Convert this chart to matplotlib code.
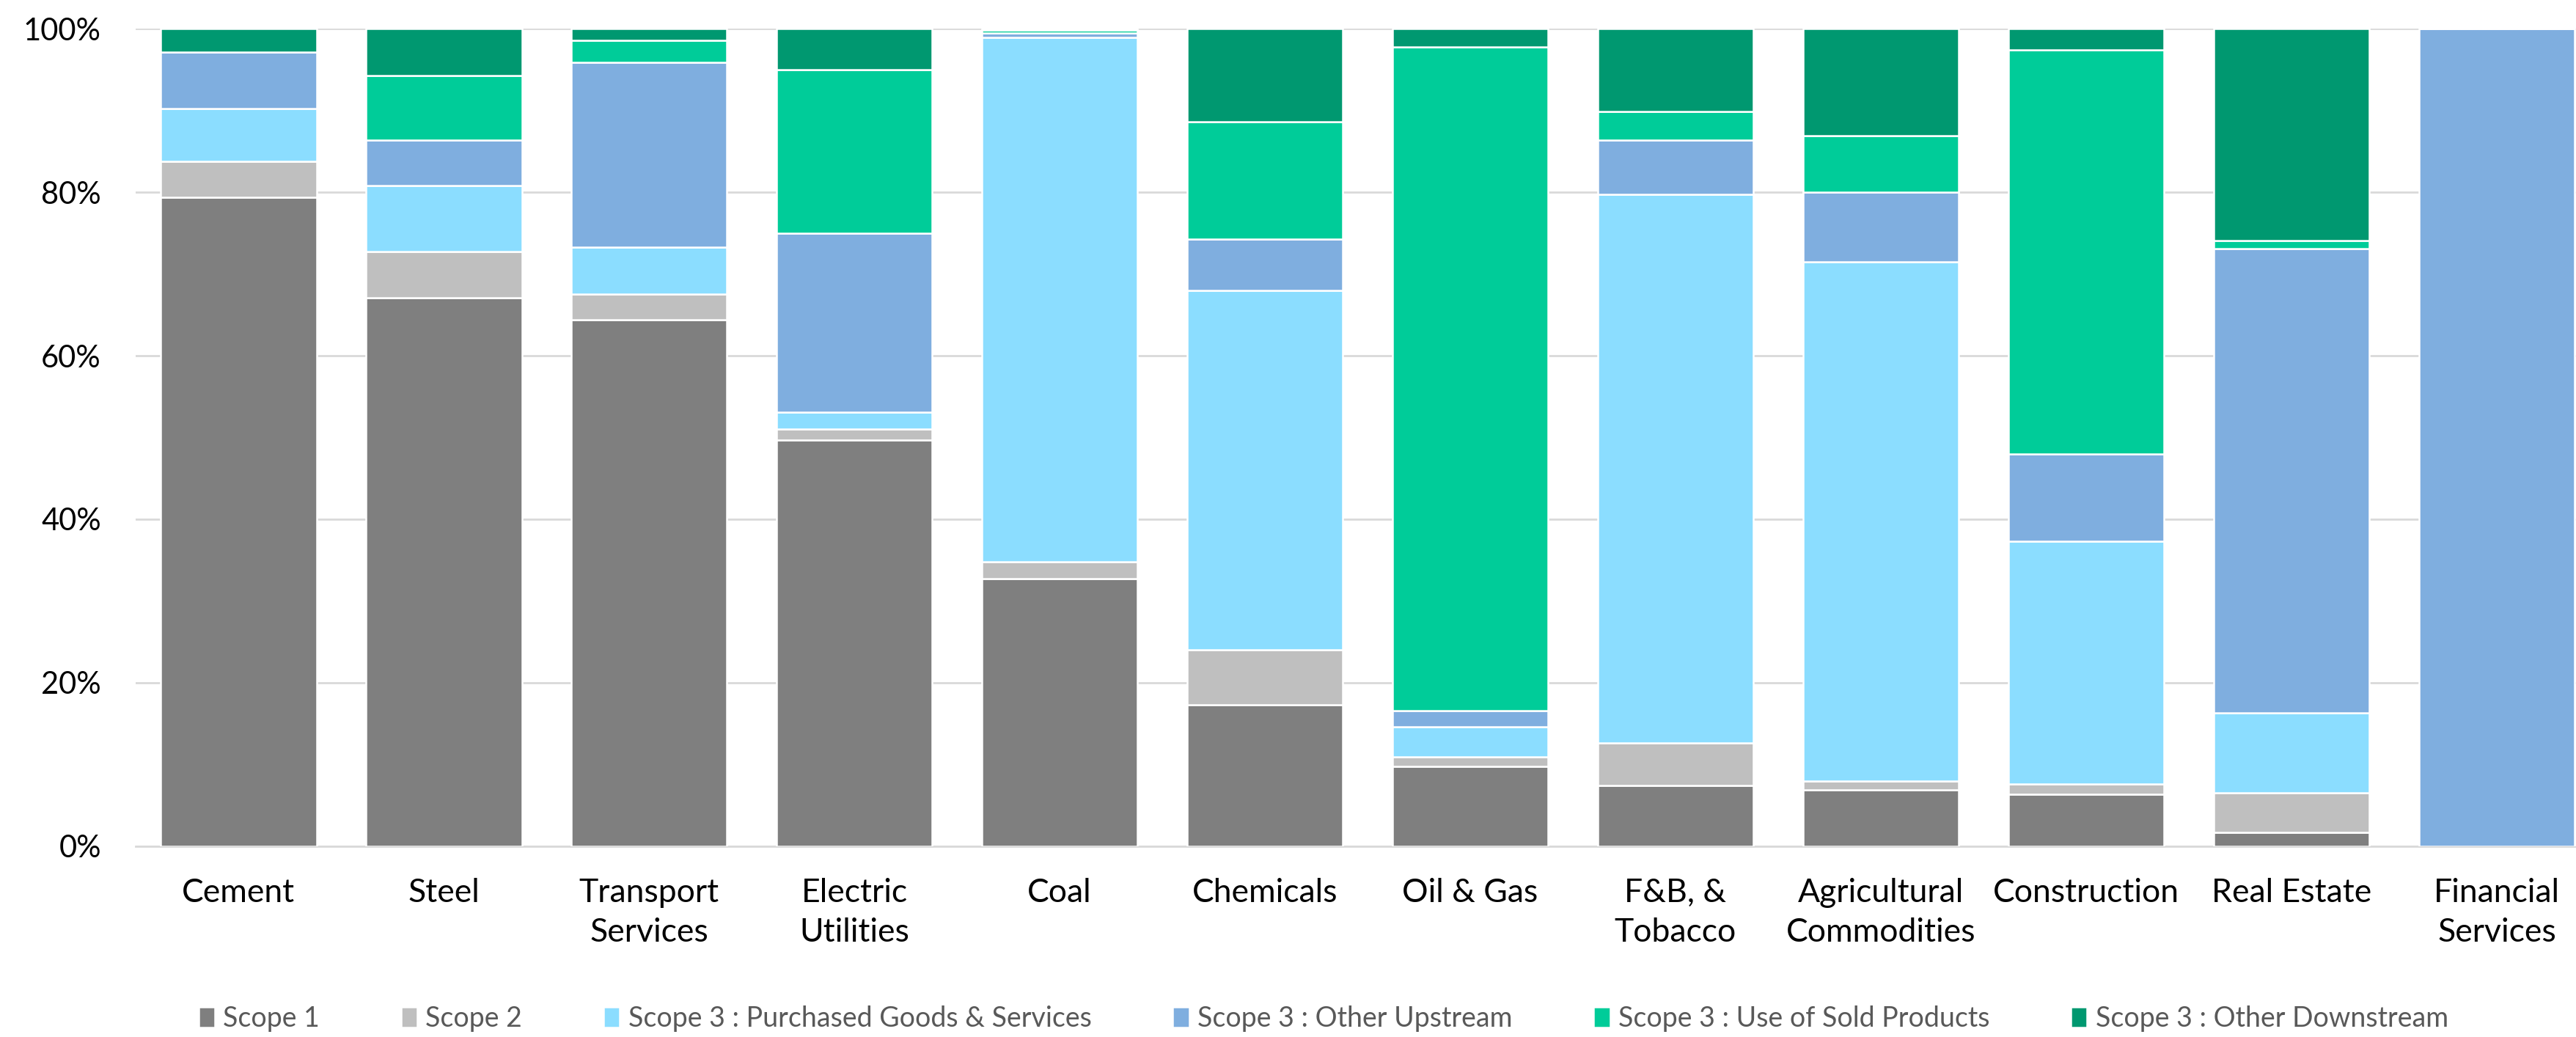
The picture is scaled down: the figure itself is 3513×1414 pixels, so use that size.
import numpy as np
import matplotlib.pyplot as plt
from matplotlib.ticker import PercentFormatter

# Emission shares by sector (% of total)
sectors = ["Cement", "Steel", "Transport\nServices", "Electric\nUtilities", "Coal",
           "Chemicals", "Oil & Gas", "F&B, &\nTobacco", "Agricultural\nCommodities",
           "Construction", "Real Estate", "Financial\nServices"]

scope1 = [79.4, 67.1, 64.4, 49.7, 32.7, 17.3, 9.8, 7.4, 6.9, 6.4, 1.7, 0.0]
scope2 = [4.4, 5.6, 3.1, 1.3, 2.1, 6.7, 1.1, 5.2, 1.1, 1.2, 4.8, 0.0]
purchased = [6.4, 8.1, 5.8, 2.1, 64.1, 44.0, 3.7, 67.1, 63.5, 29.7, 9.8, 0.0]
other_upstream = [6.9, 5.6, 22.6, 21.9, 0.6, 6.3, 2.0, 6.7, 8.5, 10.7, 56.8, 100.0]
use_sold = [0.0, 7.9, 2.7, 20.0, 0.3, 14.3, 81.2, 3.5, 6.9, 49.4, 1.0, 0.0]
other_downstream = [2.9, 5.7, 1.4, 5.0, 0.2, 11.4, 2.2, 10.1, 13.1, 2.6, 25.9, 0.0]

series_names = ["Scope 1", "Scope 2", "Scope 3 : Purchased Goods & Services",
                "Scope 3 : Other Upstream", "Scope 3 : Use of Sold Products",
                "Scope 3 : Other Downstream"]
series_colors = ["#7F7F7F", "#BFBFBF", "#8BDDFF", "#7FAEDF", "#00CC99", "#009870"]

plt.rcParams["font.family"] = ["Lato", "DejaVu Sans"]

fig = plt.figure(figsize=(35.13, 14.14), dpi=100)
ax = fig.add_axes([0.0527, 0.1839, 0.9473, 0.7885])

x = np.arange(len(sectors))
bottom = np.zeros(len(sectors))
all_series = [scope1, scope2, purchased, other_upstream, use_sold, other_downstream]
for vals, name, col in zip(all_series, series_names, series_colors):
    vals = np.array(vals)
    ax.bar(x, vals, 0.76, bottom=bottom, color=col, edgecolor="white",
           linewidth=1.8, label=name, zorder=3)
    bottom += vals

# the plot area runs past the right edge of the picture, as in the source
ax.set_xlim(-0.5, 11.386)
ax.set_ylim(0, 100)
ax.set_yticks(np.arange(0, 101, 20))
ax.yaxis.set_major_formatter(PercentFormatter(decimals=0))
ax.grid(axis="y", color="#D9D9D9", linewidth=2, zorder=0)
ax.set_axisbelow(True)

for s in ["left", "right", "top"]:
    ax.spines[s].set_visible(False)
ax.spines["bottom"].set_color("#D9D9D9")
ax.spines["bottom"].set_linewidth(2)

ax.set_xticks(x)
ax.set_xticklabels(sectors, fontsize=32, multialignment="center", linespacing=1.4)
ax.tick_params(axis="x", length=0, pad=31)
ax.tick_params(axis="y", length=0, pad=34, labelsize=30)

fig.legend(loc="lower center", bbox_to_anchor=(0.5137, -0.019), ncol=6, frameon=False,
           fontsize=27, labelcolor="#595959", handlelength=0.6, handleheight=0.75,
           handletextpad=0.3, columnspacing=2.95)

fig.savefig("out.png", dpi=100)
